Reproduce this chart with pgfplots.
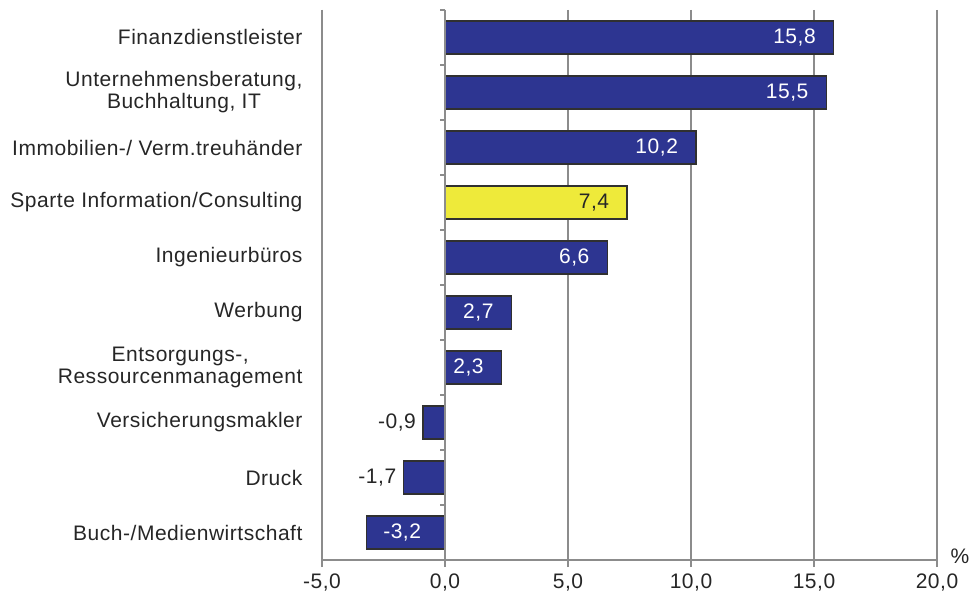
\documentclass[border=0pt]{standalone}
\usepackage{pgfplots}
\pgfplotsset{compat=1.18}
\usepackage{fontspec}
\setmainfont{Liberation Sans}[LetterSpace=2.5]
\definecolor{barblue}{HTML}{2D3591}
\definecolor{baryellow}{HTML}{EEEA3A}
\definecolor{edgec}{HTML}{303030}
\definecolor{gridc}{HTML}{8C8C8C}
\definecolor{txt}{HTML}{262626}
\pgfkeys{/pgf/number format/assume math mode=true}
\newcommand\lblfont{\fontsize{21}{22}\selectfont}
\begin{document}
\begin{tikzpicture}
\pgfplotsset{
  lbl/.style={nodes near coords={\pgfmathprintnumber[use comma,fixed,fixed zerofill,precision=1]{\pgfplotspointmeta}}, point meta=x},
}
\begin{axis}[
  name=main,
  scale only axis, width=615pt, height=550pt,
  xmin=-5, xmax=20, ymin=-0.5, ymax=9.5, y dir=reverse,
  xbar, bar width=0.6, bar shift=0pt,
  axis x line*=bottom, axis y line*=left,
  axis line style={gridc, line width=1.2pt},
  xtick={-5,0,...,20},
  xticklabel style={/pgf/number format/.cd, use comma, fixed, fixed zerofill, precision=1, /tikz/.cd, yshift=-3pt},
  xmajorgrids, grid style={gridc, line width=1.2pt},
  tick align=outside, major tick length=7pt,
  xtick style={gridc, line width=1.2pt},
  ytick={0,...,9},
  ytick style={draw=none},
  yticklabels={Finanzdienstleister,{Unternehmensberatung,\\Buchhaltung, IT},Immobilien-/ Verm.treuhänder,Sparte Information/Consulting,Ingenieurbüros,Werbung,{Entsorgungs-,\\Ressourcenmanagement},Versicherungsmakler,Druck,Buch-/Medienwirtschaft},
  yticklabel style={align=center, xshift=-9pt},
  tick label style={font=\lblfont, text=txt},
  every node near coord/.append style={font=\lblfont},
]
\addplot[fill=barblue, draw=edgec, line width=1.3pt, lbl,
  every node near coord/.append style={anchor=east, xshift=-14pt, text=white}]
  coordinates {(15.8,0) (15.5,1) (10.2,2) (6.6,4) (2.7,5) (2.3,6)};
\addplot[fill=baryellow, draw=edgec, line width=1.3pt, lbl,
  every node near coord/.append style={anchor=east, xshift=-14pt, text=txt}]
  coordinates {(7.4,3)};
\addplot[fill=barblue, draw=edgec, line width=1.3pt, lbl,
  every node near coord/.append style={anchor=east, xshift=-3pt, text=txt}]
  coordinates {(-0.9,7) (-1.7,8)};
\addplot[fill=barblue, draw=edgec, line width=1.3pt, lbl,
  every node near coord/.append style={anchor=west, xshift=13pt, text=white}]
  coordinates {(-3.2,9)};
\end{axis}
\begin{axis}[
  scale only axis, width=615pt, height=550pt,
  xmin=-5, xmax=20, ymin=-0.5, ymax=9.5, y dir=reverse,
  axis x line=none, axis y line=middle,
  axis line style={gridc, line width=1.2pt, -},
  ytick={-0.5,0.5,...,9.5}, yticklabels={},
  tick align=outside, major tick length=5pt,
  ytick style={gridc, line width=1.2pt},
]
\end{axis}
\node[font=\lblfont, text=txt] at ([xshift=23pt,yshift=4pt]main.south east) {\%};
\pgfresetboundingbox
\path (main.south west) ++(-322pt,-41pt) rectangle ++(971pt,601pt);
\end{tikzpicture}
\end{document}
